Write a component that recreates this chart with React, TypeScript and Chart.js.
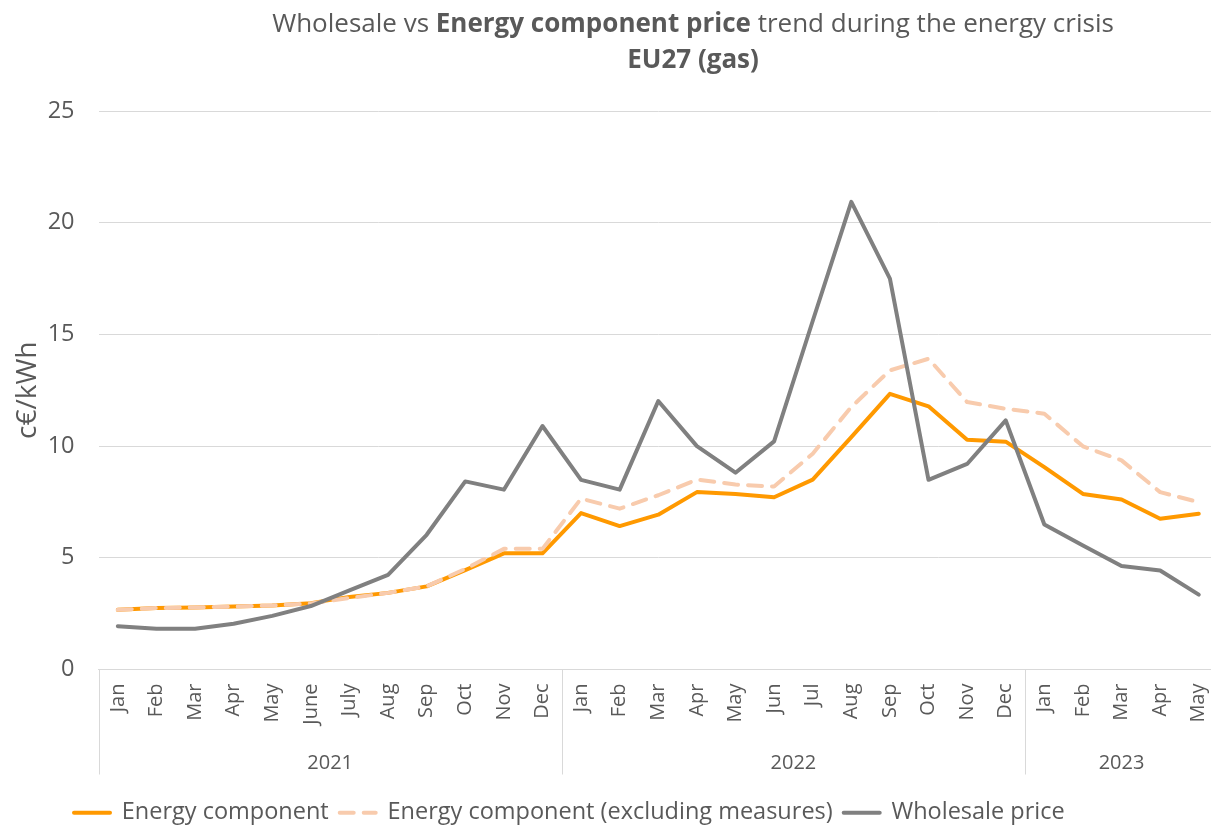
import React, { useEffect, useRef } from 'react';
import { Chart, registerables } from 'chart.js';

Chart.register(...registerables);

const FONT = "'Open Sans', sans-serif";
const TEXT_COLOR = '#595959';
const GRID_COLOR = '#d9d9d9';

const years = ['2021', '2022', '2023'];
const months2021 = ['Jan', 'Feb', 'Mar', 'Apr', 'May', 'June', 'July', 'Aug', 'Sep', 'Oct', 'Nov', 'Dec'];
const months2022 = ['Jan', 'Feb', 'Mar', 'Apr', 'May', 'Jun', 'Jul', 'Aug', 'Sep', 'Oct', 'Nov', 'Dec'];
const months2023 = ['Jan', 'Feb', 'Mar', 'Apr', 'May'];
const monthGroups = [months2021, months2022, months2023];

const energyComponent = [
  2.67, 2.75, 2.78, 2.82, 2.87, 2.97, 3.25, 3.43, 3.72, 4.45, 5.2, 5.2,
  7.0, 6.42, 6.93, 7.94, 7.86, 7.71, 8.5, 10.4, 12.34, 11.78, 10.28, 10.2,
  9.06, 7.86, 7.61, 6.75, 6.97,
];
const energyExclMeasures = [
  2.67, 2.75, 2.78, 2.82, 2.87, 2.95, 3.2, 3.43, 3.72, 4.5, 5.4, 5.4,
  7.65, 7.2, 7.8, 8.5, 8.28, 8.19, 9.66, 11.75, 13.39, 13.91, 11.97, 11.67,
  11.45, 9.99, 9.36, 7.94, 7.49,
];
const wholesalePrice = [
  1.94, 1.82, 1.82, 2.05, 2.4, 2.84, 3.54, 4.24, 6.03, 8.42, 8.05, 10.9,
  8.49, 8.05, 12.02, 10.0, 8.81, 10.21, 15.6, 20.93, 17.5, 8.49, 9.2, 11.15,
  6.49, 5.55, 4.63, 4.43, 3.35,
];

const seriesNames = ['Energy component', 'Energy component (excluding measures)', 'Wholesale price'];
const titleLine1 = [
  { text: 'Wholesale vs ', bold: false },
  { text: 'Energy component price', bold: true },
  { text: ' trend during the energy crisis', bold: false },
];
const titleLine2 = 'EU27 (gas)';
const yAxisTitle = 'c€/kWh';

const labels = monthGroups.flat();

const TITLE_CX = 693;
const TITLE_SIZE = 26;
const LEGEND_LEFT = 63;

const titlePlugin = {
  id: 'richTitle',
  afterDraw(chart: any) {
    const ctx = chart.ctx;
    ctx.save();
    ctx.fillStyle = TEXT_COLOR;
    ctx.textBaseline = 'alphabetic';
    ctx.textAlign = 'left';
    const reg = `${TITLE_SIZE}px ${FONT}`;
    const bold = `bold ${TITLE_SIZE}px ${FONT}`;
    let total = 0;
    titleLine1.forEach((s) => {
      ctx.font = s.bold ? bold : reg;
      total += ctx.measureText(s.text).width;
    });
    let x = TITLE_CX - total / 2;
    titleLine1.forEach((s) => {
      ctx.font = s.bold ? bold : reg;
      ctx.fillText(s.text, x, 32);
      x += ctx.measureText(s.text).width;
    });
    ctx.font = bold;
    ctx.textAlign = 'center';
    ctx.fillText(titleLine2, TITLE_CX, 68);
    ctx.restore();
  },
};

const legendShiftPlugin = {
  id: 'legendShift',
  afterLayout(chart: any) {
    if (chart.legend) {
      chart.legend.left = LEGEND_LEFT;
    }
  },
};

const yearGroupPlugin = {
  id: 'yearGroups',
  afterDraw(chart: any) {
    const { ctx, chartArea } = chart;
    const xs = chart.scales.x;
    ctx.save();
    ctx.strokeStyle = GRID_COLOR;
    ctx.lineWidth = 1;
    ctx.fillStyle = TEXT_COLOR;
    ctx.font = `20px ${FONT}`;
    ctx.textAlign = 'center';
    ctx.textBaseline = 'alphabetic';
    let start = 0;
    monthGroups.forEach((g, gi) => {
      const first = start;
      const last = start + g.length - 1;
      const left = gi === 0
        ? chartArea.left
        : (xs.getPixelForValue(first - 1) + xs.getPixelForValue(first)) / 2;
      const lx = Math.round(left) + 0.5;
      ctx.beginPath();
      ctx.moveTo(lx, chartArea.bottom);
      ctx.lineTo(lx, chartArea.bottom + 105);
      ctx.stroke();
      const cx = (xs.getPixelForValue(first) + xs.getPixelForValue(last)) / 2;
      ctx.fillText(years[gi], cx, chartArea.bottom + 99);
      start += g.length;
    });
    ctx.restore();
  },
};

export default function App() {
  const ref = useRef<HTMLCanvasElement>(null);

  useEffect(() => {
    const canvas = ref.current;
    if (!canvas) return;
    const chart = new Chart(canvas, {
      type: 'line',
      data: {
        labels,
        datasets: [
          {
            label: seriesNames[0],
            data: energyComponent,
            borderColor: '#FF9900',
            backgroundColor: '#FF9900',
            borderWidth: 4,
            pointRadius: 0,
            borderCapStyle: 'round',
            borderJoinStyle: 'round',
            tension: 0,
            order: 3,
          },
          {
            label: seriesNames[1],
            data: energyExclMeasures,
            borderColor: '#F8CBAD',
            backgroundColor: '#F8CBAD',
            borderWidth: 4,
            borderDash: [14, 10],
            pointRadius: 0,
            borderCapStyle: 'round',
            borderJoinStyle: 'round',
            tension: 0,
            order: 2,
          },
          {
            label: seriesNames[2],
            data: wholesalePrice,
            borderColor: '#808080',
            backgroundColor: '#808080',
            borderWidth: 4,
            pointRadius: 0,
            borderCapStyle: 'round',
            borderJoinStyle: 'round',
            tension: 0,
            order: 1,
          },
        ],
      },
      options: {
        responsive: false,
        animation: false,
        devicePixelRatio: 1,
        layout: { padding: { left: 0, top: 111, right: 14, bottom: 8.5 } },
        scales: {
          x: {
            type: 'category',
            offset: true,
            grid: { display: false, drawTicks: false },
            border: { display: true, color: GRID_COLOR, width: 1 },
            ticks: {
              autoSkip: false,
              minRotation: 90,
              maxRotation: 90,
              padding: 14,
              color: TEXT_COLOR,
              font: { family: FONT, size: 20 },
            },
            afterFit: (s: any) => {
              s.height = 120.5;
            },
          },
          y: {
            min: 0,
            max: 25,
            ticks: {
              stepSize: 5,
              padding: 24,
              color: TEXT_COLOR,
              font: { family: FONT, size: 23.5 },
            },
            grid: { color: GRID_COLOR, lineWidth: 1, drawTicks: false },
            border: { display: false },
            title: {
              display: true,
              text: yAxisTitle,
              color: TEXT_COLOR,
              font: { family: FONT, size: 28 },
              padding: { top: 11, bottom: 0 },
            },
            afterFit: (s: any) => {
              s.width = 98.5;
            },
          },
        },
        plugins: {
          title: { display: false },
          tooltip: { enabled: false },
          legend: {
            position: 'bottom',
            align: 'start',
            labels: {
              usePointStyle: true,
              pointStyle: 'line',
              pointStyleWidth: 36,
              padding: 11,
              color: TEXT_COLOR,
              font: { family: FONT, size: 23.5 },
              sort: (a: any, b: any) => a.datasetIndex - b.datasetIndex,
              generateLabels: (c: any) =>
                (Chart.defaults.plugins.legend.labels.generateLabels as any)(c).map((item: any) => {
                  const ds: any = c.data.datasets[item.datasetIndex];
                  return {
                    ...item,
                    strokeStyle: ds.borderColor,
                    fillStyle: ds.borderColor,
                    lineWidth: 4,
                    lineDash: ds.borderDash || [],
                    lineCap: 'round',
                  };
                }),
            },
          },
        },
      } as any,
      plugins: [titlePlugin, yearGroupPlugin, legendShiftPlugin],
    });
    return () => chart.destroy();
  }, []);

  return (
    <div
      style={{
        position: 'fixed',
        left: 0,
        top: 0,
        width: 1211,
        height: 827,
        overflow: 'hidden',
        background: '#ffffff',
      }}
    >
      <canvas ref={ref} width={1237} height={843} style={{ display: 'block', width: 1237, height: 843 }} />
    </div>
  );
}
